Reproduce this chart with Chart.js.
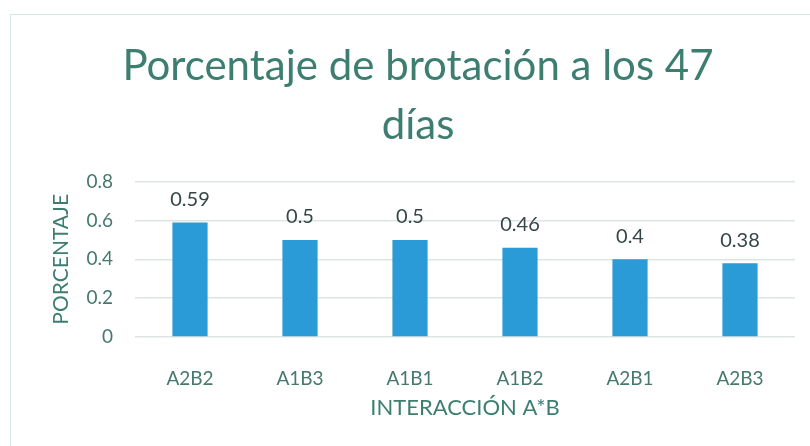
<!DOCTYPE html>
<html>
<head>
<meta charset="utf-8">
<script src="https://cdn.jsdelivr.net/npm/chart.js@4/dist/chart.umd.min.js"></script>
<style>
  html, body { margin: 0; padding: 0; background: #fff; }
  .wrap { width: 810px; height: 446px; position: relative; }
</style>
</head>
<body>
<div class="wrap"><canvas id="chart" role="img" aria-label="Porcentaje de brotación a los 47 días"></canvas></div>
<script>
const categories = ['A2B2', 'A1B3', 'A1B1', 'A1B2', 'A2B1', 'A2B3'];
const values     = [0.59, 0.5, 0.5, 0.46, 0.4, 0.38];
const yTicks     = [0, 0.2, 0.4, 0.6, 0.8];

const teal  = '#3d7e71';
const tickC = '#46796e';
const font  = 'Lato, "Open Sans", sans-serif';

// value labels above each bar
const valueLabels = {
  id: 'valueLabels',
  afterDatasetsDraw(chart) {
    const { ctx } = chart;
    const meta = chart.getDatasetMeta(0);
    ctx.save();
    ctx.font = '20px ' + font;
    ctx.fillStyle = '#364646';
    ctx.textAlign = 'center';
    ctx.textBaseline = 'middle';
    meta.data.forEach((bar, i) => {
      ctx.fillText(String(values[i]), bar.x, bar.y - 23);
    });
    ctx.restore();
  }
};

// faint frame of the chart box
const frame = {
  id: 'frame',
  beforeDraw(chart) {
    const { ctx } = chart;
    ctx.save();
    ctx.strokeStyle = '#d6e8e2';
    ctx.lineWidth = 1;
    ctx.strokeRect(10.5, 14.5, 830, 460);
    ctx.restore();
  }
};

new Chart(document.getElementById('chart'), {
  type: 'bar',
  data: {
    labels: categories,
    datasets: [{
      data: values,
      backgroundColor: '#2b9bd7',
      borderWidth: 0,
      categoryPercentage: 1,
      barPercentage: 0.32
    }]
  },
  options: {
    responsive: true, maintainAspectRatio: false,
    animation: false,
    layout: { padding: { left: 41, right: 15, top: 0, bottom: 0 } },
    plugins: {
      legend: { display: false },
      tooltip: { enabled: false },
      title: {
        display: true,
        text: ['Porcentaje de brotación a los 47', 'días'],
        color: teal,
        font: { family: font, size: 42, weight: 'normal', lineHeight: 1.4 },
        padding: { top: 37, bottom: 27 }
      }
    },
    scales: {
      x: {
        grid: { display: false },
        border: { display: false },
        ticks: { color: tickC, font: { family: font, size: 19 }, padding: 22, maxRotation: 0 },
        title: {
          display: true, text: 'INTERACCIÓN A*B', color: teal,
          font: { family: font, size: 22, lineHeight: 1.2 },
          padding: { top: 0, bottom: 25 }
        },
        afterFit: s => { s.height = 109; }
      },
      y: {
        min: 0, max: 0.8,
        afterBuildTicks: s => { s.ticks = yTicks.map(v => ({ value: v })); },
        grid: { color: '#dde5e3', drawTicks: false, lineWidth: 1.5 },
        border: { display: false },
        ticks: { color: tickC, font: { family: font, size: 19 }, padding: 22, callback: v => String(v) },
        title: {
          display: true, text: 'PORCENTAJE', color: teal,
          font: { family: font, size: 21, lineHeight: 1.2 },
          padding: { top: 8, bottom: 0 }
        },
        afterFit: s => { s.width = 94; }
      }
    }
  },
  plugins: [valueLabels, frame]
});
</script>
</body>
</html>
